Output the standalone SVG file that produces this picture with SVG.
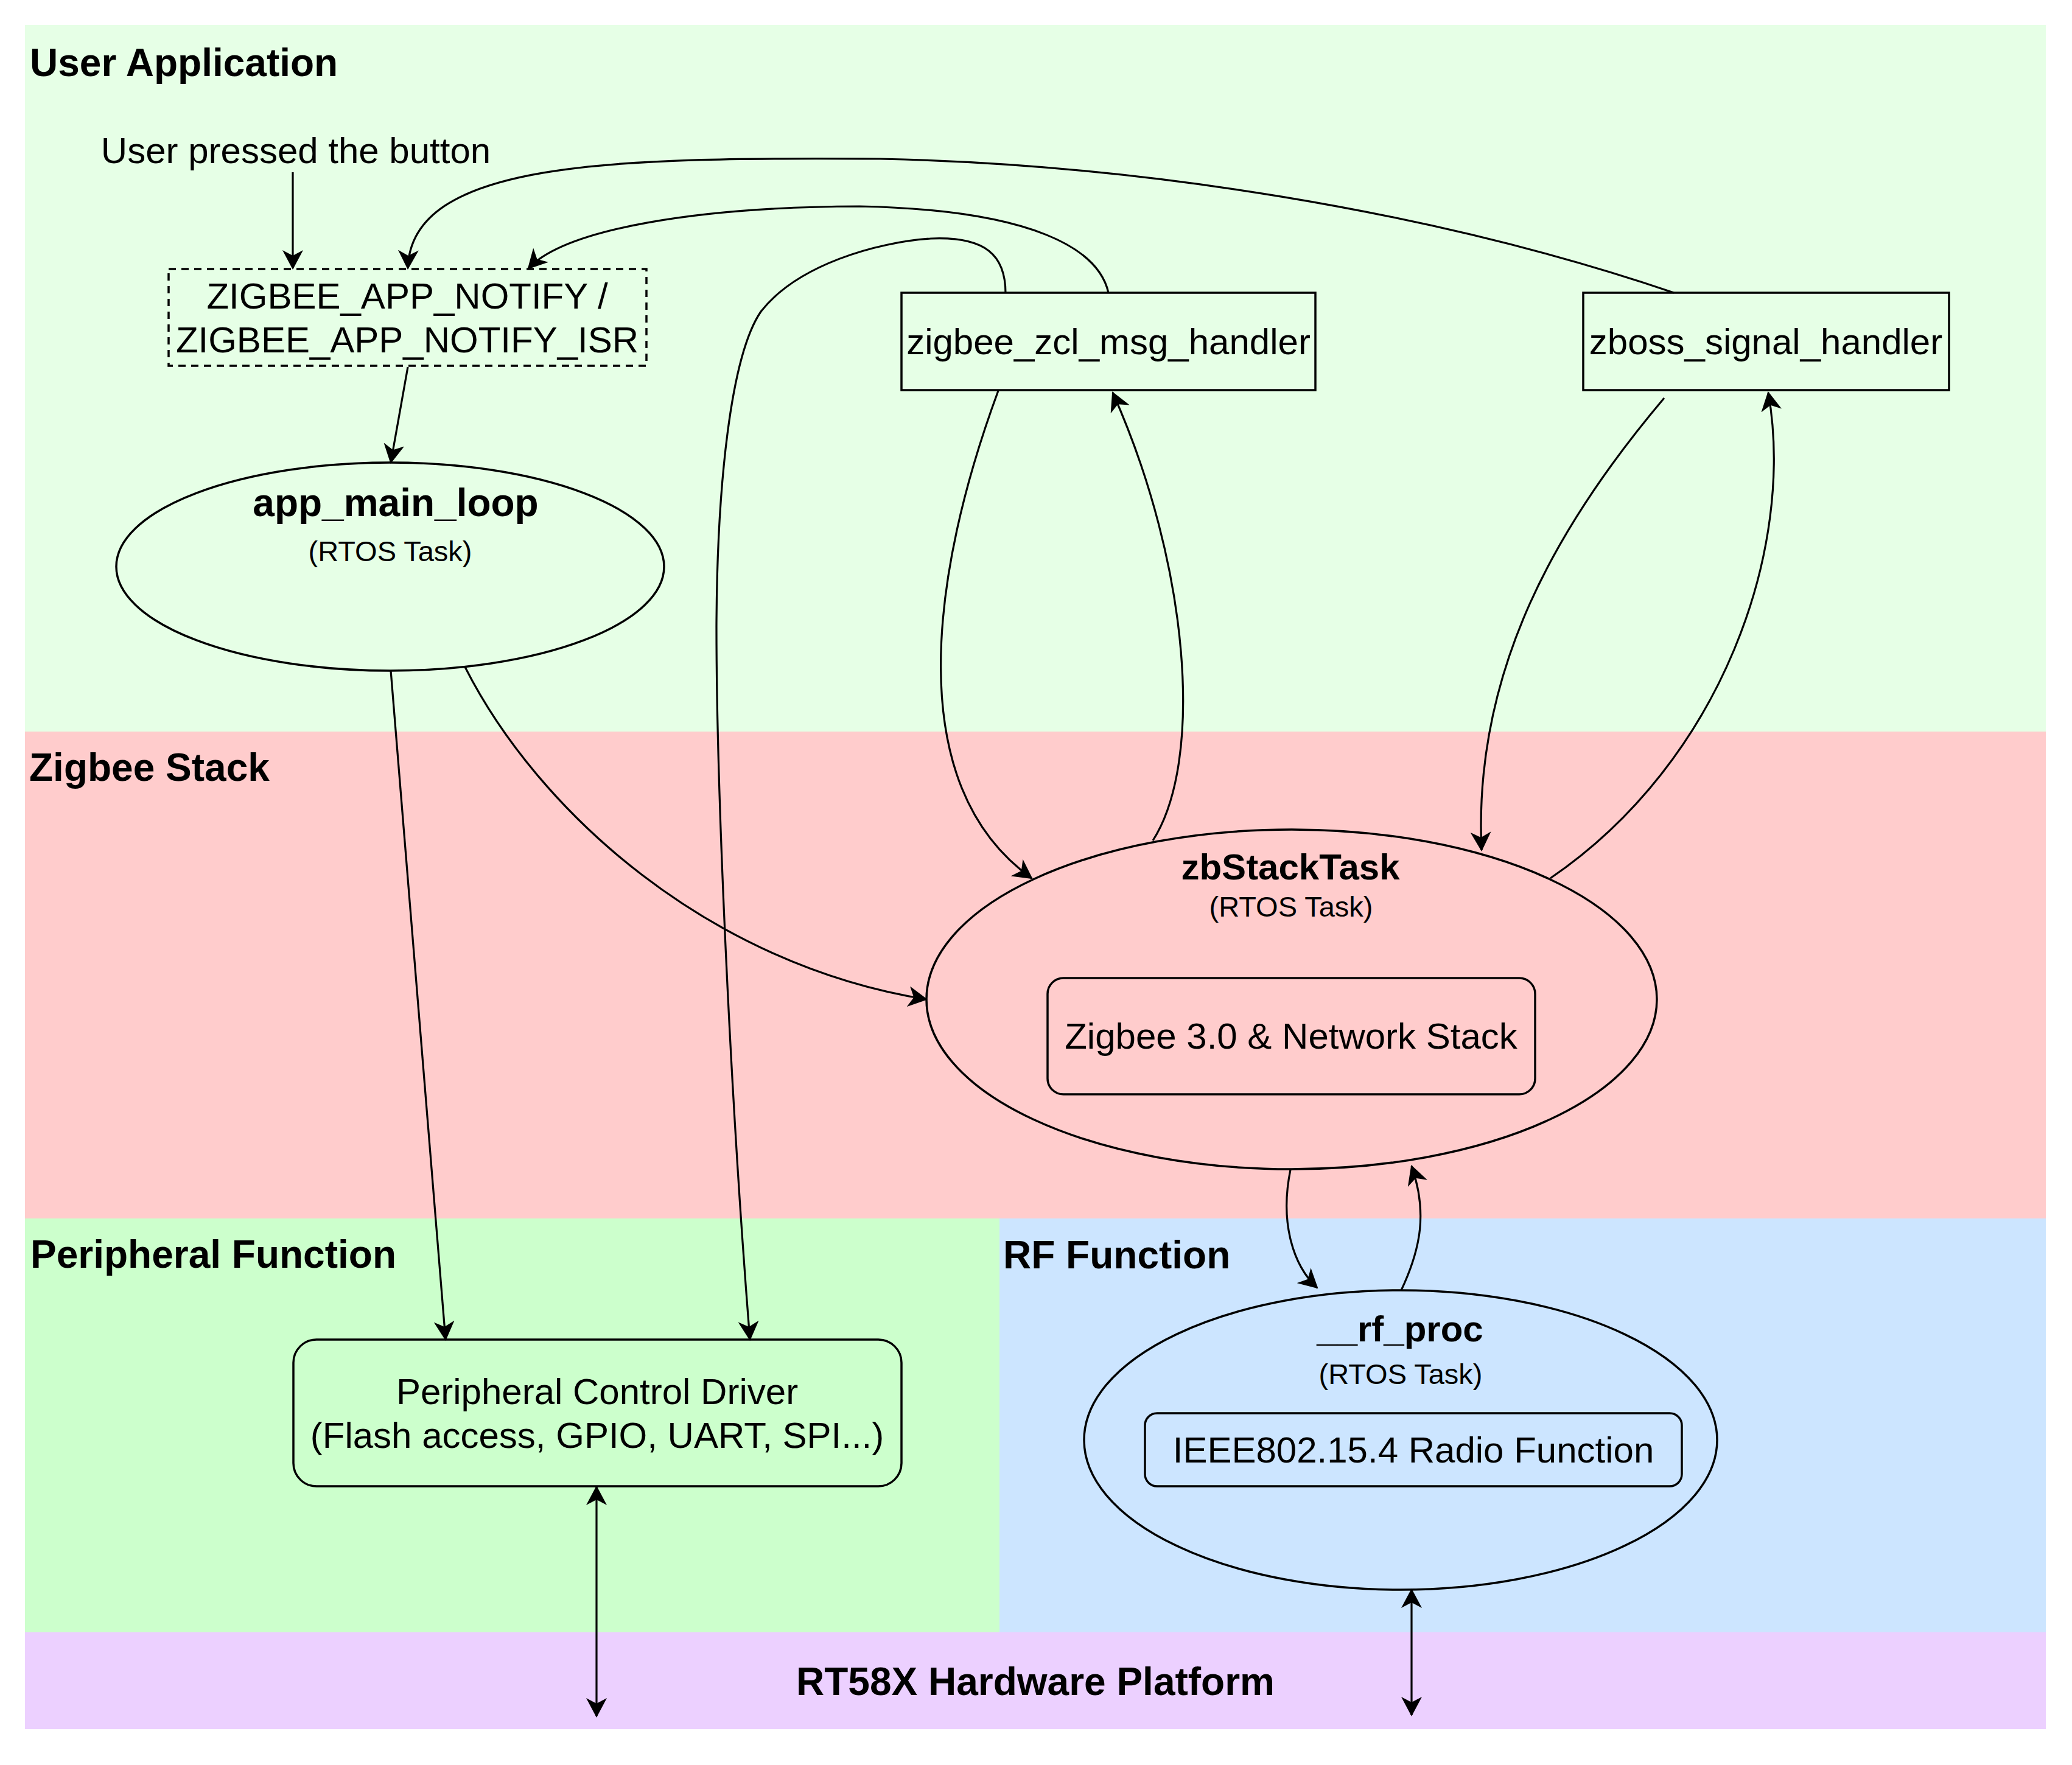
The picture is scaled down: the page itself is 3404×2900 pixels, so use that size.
<svg xmlns="http://www.w3.org/2000/svg" width="3404" height="2900" viewBox="0 0 3404 2900">
<style>
text{font-family:"Liberation Sans",Arial,Helvetica,sans-serif;fill:#000}
.title{font-size:64px;font-weight:bold}
.lbl{font-size:60px}
.bl{font-size:60px;font-weight:bold}
.sm{font-size:47px}
.mid{text-anchor:middle}
.shape{fill:none;stroke:#000;stroke-width:3.5}
.dash{stroke-dasharray:12 9}
.conn path,.conn line{fill:none;stroke:#000;stroke-width:3.2}
.a{marker-end:url(#arr)}
.b{marker-start:url(#arr);marker-end:url(#arr)}
</style>
<defs>
<marker id="arr" viewBox="0 0 32 34" refX="30" refY="17" markerWidth="32" markerHeight="34" markerUnits="userSpaceOnUse" orient="auto-start-reverse">
<path d="M0,0 L32,17 L0,34 L9,17 Z" fill="#000"/>
</marker>
</defs>
<rect width="3404" height="2900" fill="#fff"/>
<g id="lane-user-application">
<rect x="41" y="41" width="3320" height="1161" fill="#e6ffe6"/>
<text class="title" x="49" y="125">User Application</text>
</g>
<g id="lane-zigbee-stack">
<rect x="41" y="1202" width="3320" height="800" fill="#ffcccc"/>
<text class="title" x="48" y="1283">Zigbee Stack</text>
</g>
<g id="lane-peripheral-function">
<rect x="41" y="2002" width="1601" height="680" fill="#ccffcc"/>
<text class="title" x="50" y="2083">Peripheral Function</text>
</g>
<g id="lane-rf-function">
<rect x="1642" y="2002" width="1719" height="680" fill="#cce5ff"/>
<text class="title" x="1648" y="2084">RF Function</text>
</g>
<g id="lane-hardware">
<rect x="41" y="2682" width="3320" height="159" fill="#ecd0ff"/>
<text class="title mid" x="1701" y="2785">RT58X Hardware Platform</text>
</g>
<g id="user-pressed">
<text class="lbl mid" x="486" y="268">User pressed the button</text>
</g>
<g id="zigbee-app-notify">
<rect class="shape dash" x="277" y="442" width="785" height="159"/>
<text class="lbl mid" x="669" y="507">ZIGBEE_APP_NOTIFY /</text>
<text class="lbl mid" x="669" y="579">ZIGBEE_APP_NOTIFY_ISR</text>
</g>
<g id="app-main-loop">
<ellipse class="shape" cx="641" cy="931" rx="450" ry="171"/>
<text class="title mid" x="650" y="848">app_main_loop</text>
<text class="sm mid" x="641" y="922">(RTOS Task)</text>
</g>
<g id="zigbee-zcl-msg-handler">
<rect class="shape" x="1481" y="481" width="680" height="160"/>
<text class="lbl mid" x="1821" y="582">zigbee_zcl_msg_handler</text>
</g>
<g id="zboss-signal-handler">
<rect class="shape" x="2601" y="481" width="601" height="160"/>
<text class="lbl mid" x="2901" y="582">zboss_signal_handler</text>
</g>
<g id="zbstacktask">
<ellipse class="shape" cx="2122" cy="1642" rx="600" ry="279"/>
<text class="bl mid" x="2120" y="1445">zbStackTask</text>
<text class="sm mid" x="2121" y="1506">(RTOS Task)</text>
</g>
<g id="zigbee-network-stack">
<rect class="shape" x="1721" y="1607" width="801" height="191" rx="26" ry="26"/>
<text class="lbl mid" x="2121" y="1723">Zigbee 3.0 &amp; Network Stack</text>
</g>
<g id="rf-proc">
<ellipse class="shape" cx="2301" cy="2366" rx="520" ry="246"/>
<text class="bl mid" x="2300" y="2204">__rf_proc</text>
<text class="sm mid" x="2301" y="2274">(RTOS Task)</text>
</g>
<g id="radio-function">
<rect class="shape" x="1881" y="2322" width="882" height="120" rx="20" ry="20"/>
<text class="lbl mid" x="2322" y="2403">IEEE802.15.4 Radio Function</text>
</g>
<g id="peripheral-control-driver">
<rect class="shape" x="482" y="2201" width="999" height="241" rx="38" ry="38"/>
<text class="lbl mid" x="981" y="2307">Peripheral Control Driver</text>
<text class="lbl mid" x="981" y="2379">(Flash access, GPIO, UART, SPI...)</text>
</g>
<g id="connectors" class="conn">
<line class="a" x1="481" y1="283" x2="481" y2="441"/>
<line class="a" x1="670" y1="603" x2="642" y2="760"/>
<line class="a" x1="642" y1="1102" x2="732" y2="2201"/>
<path class="a" d="M1652,482 C1652,420 1620,388 1529,392 C1440,398 1310,435 1250,512 C1200,585 1178,800 1177,1030 C1177,1300 1200,1800 1232,2201"/>
<path class="a" d="M764,1096 C885,1335 1165,1585 1522,1642"/>
<path class="a" d="M1640,642 C1530,940 1480,1290 1695,1443"/>
<path class="a" d="M1894,1381 C1978,1250 1955,930 1828,645"/>
<path class="a" d="M2734,654 C2560,860 2420,1100 2434,1397"/>
<path class="a" d="M2547,1443 C2830,1250 2950,900 2905,645"/>
<path class="a" d="M1821,481 C1805,410 1700,345 1412,339 C1150,340 930,375 868,441"/>
<path class="a" d="M2750,481 C2350,345 1870,270 1446,261 C1000,258 675,265 670,441"/>
<path class="a" d="M2120,1922 C2102,2010 2125,2080 2164,2116"/>
<path class="a" d="M2302,2120 C2335,2050 2345,1990 2319,1916"/>
<line class="b" x1="980" y1="2443" x2="980" y2="2820"/>
<line class="b" x1="2319" y1="2612" x2="2319" y2="2818"/>
</g>
</svg>
